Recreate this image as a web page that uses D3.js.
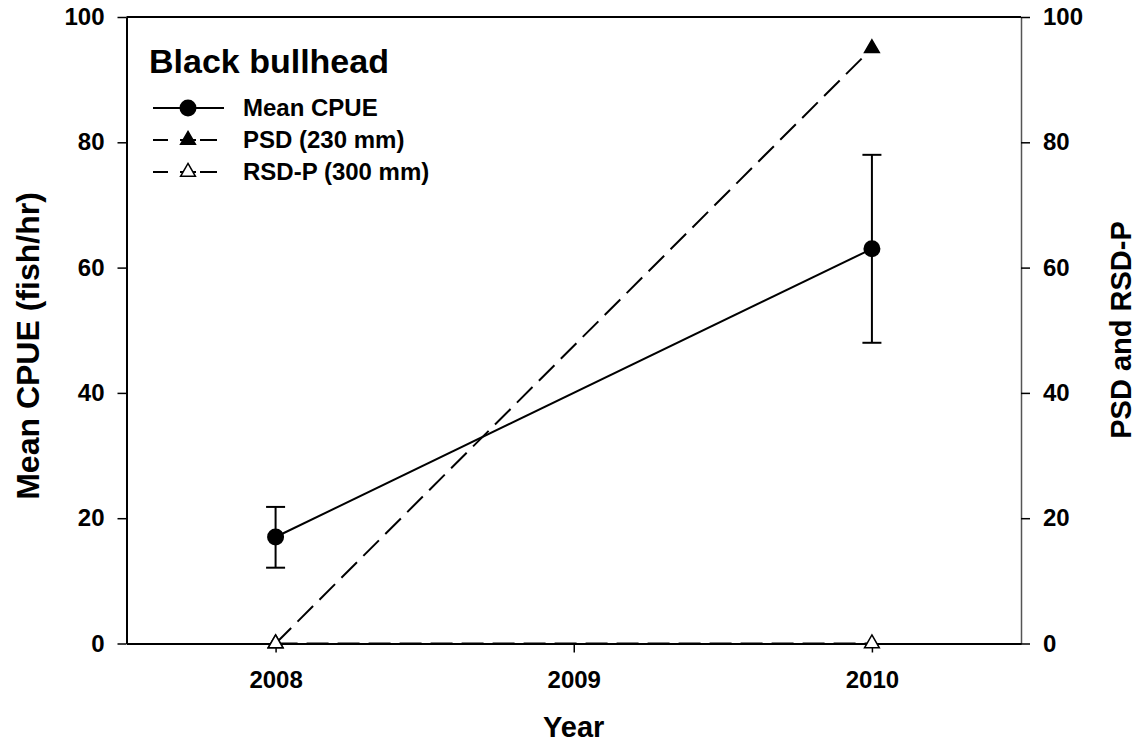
<!DOCTYPE html>
<html>
<head>
<meta charset="utf-8">
<script src="https://cdn.jsdelivr.net/npm/d3@7"></script>
<style>
  html, body { margin: 0; padding: 0; background: #fff; }
  svg { display: block; font-family: Arial, "Liberation Sans", Helvetica, sans-serif; font-weight: bold; }
</style>
</head>
<body>
<svg id="chart" width="1138" height="746"></svg>
<script>
// Black bullhead survey summary
const years = [2008, 2010];
const cpueMean = [17, 63];
const cpueUpper = [21.8, 78];
const cpueLower = [12.1, 48];
const psd = [0, 95];
const rsdp = [0, 0];
const xTicks = [2008, 2009, 2010];
const yTicks = [0, 20, 40, 60, 80, 100];

const svg = d3.select("#chart");
const m = { left: 126.5, right: 1021, top: 17, bottom: 643.5 };

const x = d3.scaleLinear().domain([2007.5, 2010.5]).range([m.left, m.right]);
const yL = d3.scaleLinear().domain([0, 100]).range([m.bottom, m.top]);
const yR = d3.scaleLinear().domain([0, 100]).range([m.bottom, m.top]);

// frame top line
svg.append("line")
  .attr("x1", m.left).attr("x2", m.right)
  .attr("y1", m.top).attr("y2", m.top)
  .attr("stroke", "#000").attr("stroke-width", 2);

// left axis
const gL = svg.append("g").attr("transform", `translate(${m.left},0)`)
  .call(d3.axisLeft(yL).tickValues(yTicks).tickSize(9).tickPadding(13).tickSizeOuter(0));
// right axis
const gR = svg.append("g").attr("transform", `translate(${m.right},0)`)
  .call(d3.axisRight(yR).tickValues(yTicks).tickSize(9).tickPadding(13).tickSizeOuter(0));
// bottom axis
const gB = svg.append("g").attr("transform", `translate(0,${m.bottom})`)
  .call(d3.axisBottom(x).tickValues(xTicks).tickFormat(d3.format("d")).tickSize(9).tickPadding(18.5).tickSizeOuter(0));

[gL, gR, gB].forEach(g => {
  g.selectAll(".domain").attr("stroke", "#000").attr("stroke-width", 2);
  g.selectAll(".tick line").attr("stroke", "#000").attr("stroke-width", 1.5);
  g.selectAll(".tick text").attr("fill", "#000").style("font-size", "24px").style("font-weight", "bold")
    .style("font-family", "Arial, 'Liberation Sans', sans-serif");
});
gR.select(".domain").attr("stroke", "#555").attr("stroke-width", 1.5);

// axis titles
svg.append("text").attr("x", (m.left + m.right) / 2).attr("y", 737)
  .attr("text-anchor", "middle").style("font-size", "29px").text("Year");
svg.append("text").attr("transform", "translate(39,346) rotate(-90)")
  .attr("text-anchor", "middle").style("font-size", "32px").text("Mean CPUE (fish/hr)");
svg.append("text").attr("transform", "translate(1131,330) rotate(-90)")
  .attr("text-anchor", "middle").style("font-size", "29px").text("PSD and RSD-P");

const plot = svg.append("g");
const dash = "22,9";

// PSD line
plot.append("path")
  .datum(years.map((d, i) => [x(d), yR(psd[i])]))
  .attr("d", d3.line()).attr("fill", "none").attr("stroke", "#000")
  .attr("stroke-width", 2).attr("stroke-dasharray", dash);
// RSD-P line
plot.append("path")
  .datum(years.map((d, i) => [x(d), yR(rsdp[i])]))
  .attr("d", d3.line()).attr("fill", "none").attr("stroke", "#000")
  .attr("stroke-width", 2).attr("stroke-dasharray", dash);
// CPUE line
plot.append("path")
  .datum(years.map((d, i) => [x(d), yL(cpueMean[i])]))
  .attr("d", d3.line()).attr("fill", "none").attr("stroke", "#000").attr("stroke-width", 2);

// error bars
years.forEach((d, i) => {
  const cx = x(d);
  plot.append("line").attr("x1", cx).attr("x2", cx)
    .attr("y1", yL(cpueLower[i])).attr("y2", yL(cpueUpper[i]))
    .attr("stroke", "#000").attr("stroke-width", 2);
  [cpueLower[i], cpueUpper[i]].forEach(v => {
    plot.append("line").attr("x1", cx - 9.5).attr("x2", cx + 9.5)
      .attr("y1", yL(v)).attr("y2", yL(v))
      .attr("stroke", "#000").attr("stroke-width", 2);
  });
});

const tri = d3.symbol().type(d3.symbolTriangle).size(95);

// markers
years.forEach((d, i) => {
  plot.append("path").attr("d", tri())
    .attr("transform", `translate(${x(d)},${yR(psd[i])})`)
    .attr("fill", "#000").attr("stroke", "#000").attr("stroke-width", 1.5);
});
years.forEach((d, i) => {
  plot.append("path").attr("d", tri())
    .attr("transform", `translate(${x(d)},${yR(rsdp[i])})`)
    .attr("fill", "#fff").attr("stroke", "#000").attr("stroke-width", 1.5);
});
years.forEach((d, i) => {
  plot.append("circle").attr("cx", x(d)).attr("cy", yL(cpueMean[i])).attr("r", 8.5)
    .attr("fill", "#000");
});

// legend
svg.append("text").attr("x", 149).attr("y", 73).style("font-size", "34px").text("Black bullhead");

const legend = [
  { label: "Mean CPUE", type: "circle", dashed: false },
  { label: "PSD (230 mm)", type: "triFill", dashed: true },
  { label: "RSD-P (300 mm)", type: "triOpen", dashed: true }
];
const lgY = [108, 140, 172];
const lx0 = 153, lx1 = 224, lmx = 188;
legend.forEach((e, i) => {
  const g = svg.append("g").attr("transform", `translate(0,${lgY[i]})`);
  if (e.dashed) {
    g.append("line").attr("x1", lx0).attr("x2", lx0 + 15).attr("y1", 0).attr("y2", 0)
      .attr("stroke", "#000").attr("stroke-width", 2);
    g.append("line").attr("x1", lmx - 8).attr("x2", lmx + 8).attr("y1", 0).attr("y2", 0)
      .attr("stroke", "#000").attr("stroke-width", 2);
    g.append("line").attr("x1", lx1 - 24).attr("x2", lx1 - 7).attr("y1", 0).attr("y2", 0)
      .attr("stroke", "#000").attr("stroke-width", 2);
  } else {
    g.append("line").attr("x1", lx0).attr("x2", lx1).attr("y1", 0).attr("y2", 0)
      .attr("stroke", "#000").attr("stroke-width", 2);
  }
  if (e.type === "circle") {
    g.append("circle").attr("cx", lmx).attr("cy", 0).attr("r", 8.5).attr("fill", "#000");
  } else {
    g.append("path").attr("d", tri()).attr("transform", `translate(${lmx},0)`)
      .attr("fill", e.type === "triFill" ? "#000" : "#fff")
      .attr("stroke", "#000").attr("stroke-width", 1.5);
  }
  g.append("text").attr("x", 243).attr("y", 8).style("font-size", "24px").text(e.label);
});
</script>
</body>
</html>
